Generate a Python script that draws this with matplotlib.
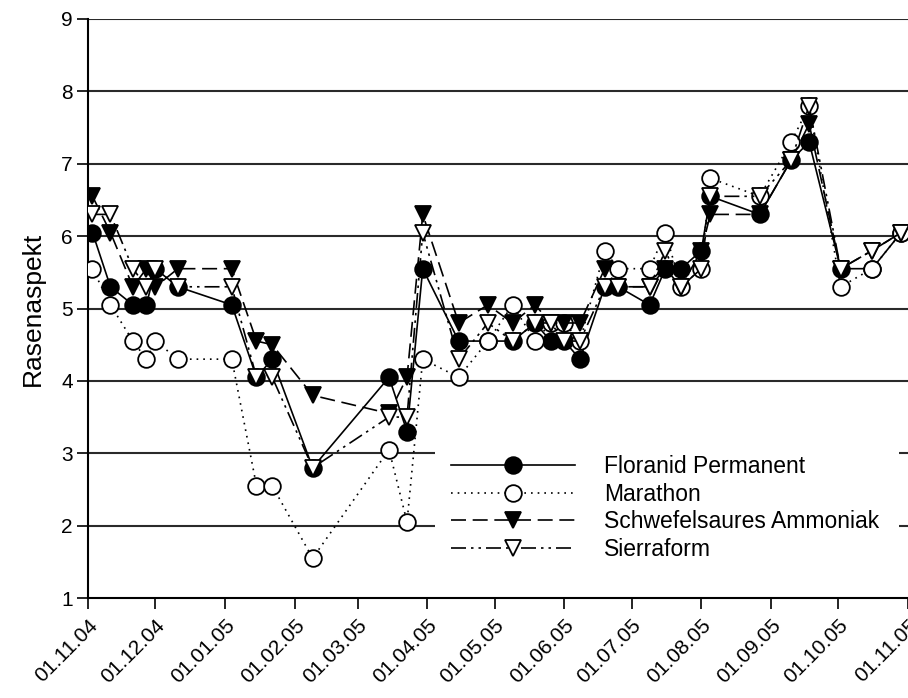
import matplotlib
matplotlib.use("Agg")
import matplotlib.pyplot as plt
from matplotlib.patches import Rectangle
import datetime as dt

plt.rcParams['font.family'] = ['Liberation Sans', 'DejaVu Sans']

dates = ["2004-11-03", "2004-11-11", "2004-11-21", "2004-11-27", "2004-12-01", "2004-12-11",
         "2005-01-04", "2005-01-15", "2005-01-22", "2005-02-09", "2005-03-15", "2005-03-23",
         "2005-03-30", "2005-04-15", "2005-04-28", "2005-05-09", "2005-05-19", "2005-05-26",
         "2005-06-01", "2005-06-08", "2005-06-19", "2005-06-25", "2005-07-09", "2005-07-16",
         "2005-07-23", "2005-08-01", "2005-08-05", "2005-08-27", "2005-09-10", "2005-09-18",
         "2005-10-02", "2005-10-16", "2005-10-29"]

floranid = [6.05, 5.3, 5.05, 5.05, 5.55, 5.3, 5.05, 4.05, 4.3, 2.8, 4.05, 3.3,
            5.55, 4.55, 4.55, 4.55, 4.8, 4.55, 4.55, 4.3, 5.3, 5.3, 5.05, 5.55,
            5.55, 5.8, 6.55, 6.3, 7.05, 7.3, 5.55, 5.55, 6.05]
marathon = [5.55, 5.05, 4.55, 4.3, 4.55, 4.3, 4.3, 2.55, 2.55, 1.55, 3.05, 2.05,
            4.3, 4.05, 4.55, 5.05, 4.55, 4.8, 4.8, 4.55, 5.8, 5.55, 5.55, 6.05,
            5.3, 5.55, 6.8, 6.55, 7.3, 7.8, 5.3, 5.55, 6.05]
schwefel = [6.55, 6.05, 5.3, 5.55, 5.3, 5.55, 5.55, 4.55, 4.5, 3.8, 3.55, 4.05,
            6.3, 4.8, 5.05, 4.8, 5.05, 4.8, 4.8, 4.8, 5.55, 5.3, 5.3, 5.55,
            5.3, 5.8, 6.3, 6.3, 7.05, 7.55, 5.55, 5.8, 6.05]
sierraform = [6.3, 6.3, 5.55, 5.3, 5.55, 5.3, 5.3, 4.05, 4.05, 2.8, 3.5, 3.5,
              6.05, 4.3, 4.8, 4.55, 4.8, 4.8, 4.55, 4.55, 5.3, 5.3, 5.3, 5.8,
              5.3, 5.55, 6.55, 6.55, 7.05, 7.8, 5.55, 5.8, 6.05]

series_names = ["Floranid Permanent", "Marathon", "Schwefelsaures Ammoniak", "Sierraform"]
tick_labels = ["01.11.04", "01.12.04", "01.01.05", "01.02.05", "01.03.05", "01.04.05",
               "01.05.05", "01.06.05", "01.07.05", "01.08.05", "01.09.05", "01.10.05", "01.11.05"]

x = [dt.datetime.strptime(d, "%Y-%m-%d") for d in dates]
ticks = [dt.datetime.strptime(t, "%d.%m.%y") for t in tick_labels]

fig = plt.figure(figsize=(9.08, 6.98), dpi=100)
ax = fig.add_axes([88/908, 1-598/698, 1-88/908, (598-19)/698])

ax.set_ylim(1, 9)
ax.set_xlim(ticks[0], ticks[-1])

gridc = '#2a2a2a'
for yv in range(2, 10):
    ax.axhline(yv, color=gridc, lw=1.5, zorder=1)

ms = 12
styles = [
    dict(ls='-', marker='o', mfc='black', mec='black'),
    dict(ls=(0, (1, 3)), marker='o', mfc='white', mec='black'),
    dict(ls=(0, (9, 4)), marker='v', mfc='black', mec='black'),
    dict(ls=(0, (9, 3, 1.5, 3, 1.5, 3)), marker='v', mfc='white', mec='black'),
]
data = [floranid, marathon, schwefel, sierraform]
for vals, st, name in zip(data, styles, series_names):
    ax.plot(x, vals, color='black', lw=1.2, ms=ms, mew=1.3, label=name, zorder=3,
            **st)

# white background behind the legend (interrupts grid lines)
ax.add_patch(Rectangle((0.423, 0.066), 0.566, 0.207, transform=ax.transAxes,
                       facecolor='white', edgecolor='none', zorder=4))

ax.set_xticks(ticks)
ax.set_xticklabels(tick_labels, rotation=45, ha='right', rotation_mode='anchor', fontsize=15)
ax.set_yticks(range(1, 10))
ax.tick_params(axis='y', labelsize=15, length=8, width=1.2, direction='out', pad=3)
ax.tick_params(axis='x', length=8, width=1.2, direction='out', pad=5)
ax.spines['top'].set_visible(False)
ax.spines['right'].set_visible(False)
ax.spines['left'].set_linewidth(1.5)
ax.spines['bottom'].set_linewidth(1.5)
ax.set_ylabel("Rasenaspekt", fontsize=19, labelpad=12)

leg = ax.legend(loc='upper left', bbox_to_anchor=(0.4427, 0.247), fontsize=16.5,
                handlelength=5.4, frameon=False, borderpad=0, borderaxespad=0,
                labelspacing=0.2, handletextpad=1.27)
leg.set_zorder(5)

fig.savefig("out.png", dpi=100)
